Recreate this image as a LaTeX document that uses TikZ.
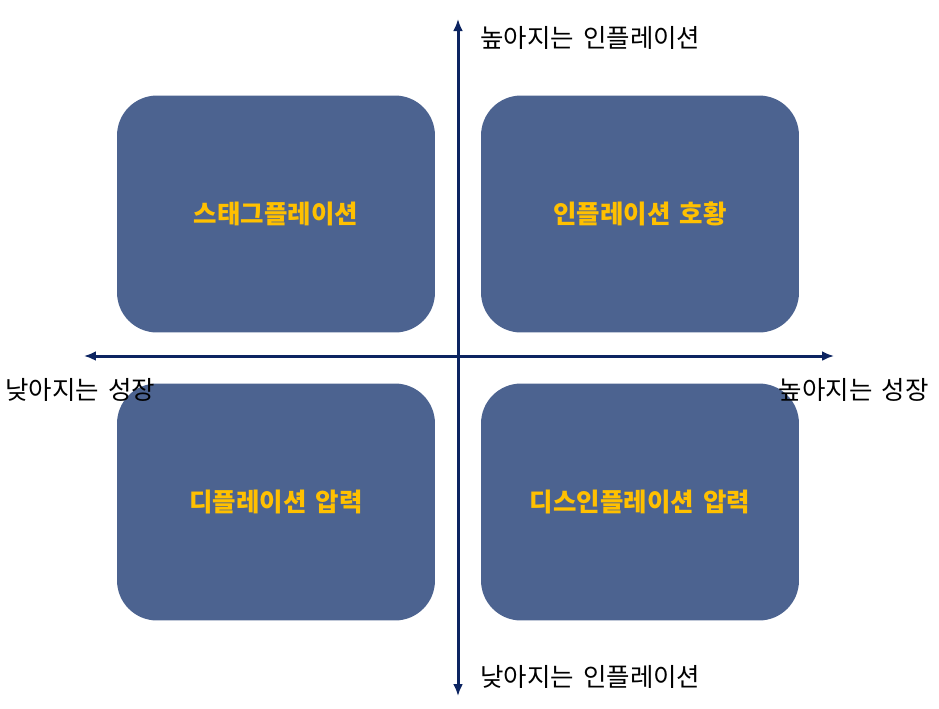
\documentclass[tikz,border=0pt]{standalone}
\usepackage{fontspec}
\newfontfamily\krfont[WordSpace=1.6]{Noto Sans CJK KR}
\usepackage{tikz}
\usetikzlibrary{arrows.meta}
\definecolor{boxblue}{HTML}{4C6390}
\definecolor{axisnavy}{HTML}{0C2461}
\definecolor{gold}{HTML}{FFC000}
\tikzset{
  quad/.style={shape=rectangle,rounded corners=0.8cm,fill=boxblue,minimum width=6.36cm,minimum height=4.74cm,text=gold,font=\krfont\bfseries\fontsize{14.5}{17}\selectfont},
  axis/.style={draw=axisnavy,line width=1.7pt,{Latex[length=2.4mm,width=2mm]}-{Latex[length=2.4mm,width=2mm]}},
  lbl/.style={font=\krfont\fontsize{14.5}{17}\selectfont,inner sep=0pt}
}
\begin{document}
\begin{tikzpicture}[x=0.02cm,y=-0.02cm]
      \useasboundingbox (0,0) rectangle (939,708);
      % quadrants
      \node[quad] (stag) at (276,214) {스태그플레이션};
      \node[quad] (infl) at (640,214) {인플레이션 호황};
      \node[quad] (defl) at (276,502) {디플레이션 압력};
      \node[quad] (disi) at (640,502) {디스인플레이션 압력};
      % axes
      \coordinate (top) at (458,19);
      \coordinate (bot) at (458,696);
      \coordinate (lft) at (84,356);
      \coordinate (rgt) at (834,356);
      \draw[axis] (bot) -- (top);
      \draw[axis] (lft) -- (rgt);
      % axis labels
      \node[lbl,anchor=west] (hiinf) at (480,38) {높아지는 인플레이션};
      \node[lbl,anchor=west] (loinf) at (480,677) {낮아지는 인플레이션};
      \node[lbl,anchor=west] (logr) at (5,390) {낮아지는 성장};
      \node[lbl,anchor=east] (higr) at (929,390) {높아지는 성장};
\end{tikzpicture}
\end{document}
